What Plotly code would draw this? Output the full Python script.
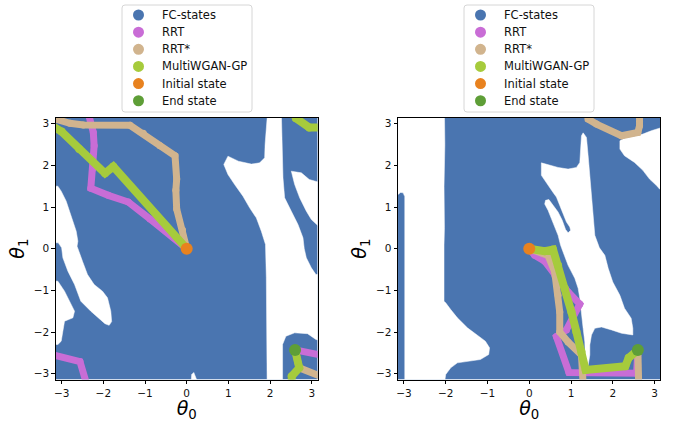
import math
import plotly.graph_objects as go

PI = math.pi
THETA_LIMITS = [-PI, PI]
TICKS = [-3, -2, -1, 0, 1, 2, 3]
LEGEND_NAMES = ["FC-states", "RRT", "RRT*", "MultiWGAN-GP", "Initial state", "End state"]
COLORS = {"FC-states": "#4A75B0", "RRT": "#C96DD6", "RRT*": "#D1B48E",
          "MultiWGAN-GP": "#A6CB3C", "Initial state": "#E8821F", "End state": "#5E9E37"}

INITIAL_STATE = (0.0, 0.0)
END_STATE = (2.60, -2.43)

# ---------- left panel: collision (white) regions inside the FC-state map ----------
L_FREE_A = [(-3.3, 1.50), (-3.09, 1.50), (-3.01, 1.38), (-2.89, 1.14), (-2.81, 0.90), (-2.73, 0.66),
            (-2.65, 0.42), (-2.61, 0.18), (-2.63, 0.06), (-2.50, -0.30), (-2.38, -0.62), (-2.22, -0.86),
            (-2.02, -1.02), (-1.90, -1.18), (-1.82, -1.50), (-1.80, -1.75), (-1.86, -1.84), (-1.96, -1.80),
            (-2.30, -1.50), (-2.54, -1.26), (-2.69, -0.86), (-2.85, -0.54), (-2.97, -0.22), (-3.00, 0.02),
            (-3.08, 0.14), (-3.3, 0.15)]
L_FREE_B = [(-3.3, -0.76), (-3.09, -0.78), (-2.93, -1.02), (-2.77, -1.34), (-2.69, -1.50), (-2.73, -1.66),
            (-2.93, -1.74), (-2.97, -1.98), (-3.01, -2.22), (-3.09, -2.30), (-3.3, -2.30)]
L_FREE_C = [(1.93, 3.3), (1.93, 3.14), (1.88, 2.50), (1.87, 2.18), (1.75, 2.06), (1.55, 2.03), (1.24, 2.10),
            (0.99, 2.22), (0.89, 2.02), (0.99, 1.78), (1.15, 1.54), (1.35, 1.26), (1.51, 0.98), (1.67, 0.74),
            (1.79, 0.42), (1.89, 0.10), (1.91, -0.70), (1.91, -2.30), (1.93, -3.3), (2.30, -3.3),
            (2.30, -2.30), (2.38, -2.10), (2.59, -2.02), (2.90, -2.04), (3.10, -2.18), (3.3, -2.22),
            (3.3, -0.62), (3.10, -0.62), (2.99, -0.46), (2.87, -0.22), (2.82, 0.0), (2.79, 0.26),
            (2.67, 0.58), (2.51, 0.90), (2.35, 1.22), (2.31, 1.70), (2.29, 2.50), (2.27, 3.3)]
L_FREE_D = [(2.51, 1.86), (2.75, 1.82), (2.94, 1.66), (3.3, 1.56), (3.3, 0.55), (3.14, 0.56), (2.99, 0.70),
            (2.87, 0.90), (2.71, 1.22), (2.59, 1.54)]
L_FREE_E = [(0.10, -3.3), (0.12, -3.02), (0.17, -2.97), (0.22, -3.10), (0.30, -3.3)]

# ---------- right panel: collision (white) regions ----------
R_FREE_A = [(-3.3, 3.3), (-2.03, 3.3), (-2.02, 2.5), (-2.04, 1.5), (-2.03, 0.5), (-2.04, 0.10),
            (-2.04, -1.26), (-2.00, -1.30), (-1.88, -1.46), (-1.72, -1.66), (-1.48, -1.90), (-1.25, -2.06),
            (-1.05, -2.22), (-0.95, -2.38), (-0.97, -2.54), (-1.17, -2.66), (-1.48, -2.70), (-1.72, -2.74),
            (-1.88, -2.86), (-2.00, -3.02), (-2.04, -3.3), (-2.98, -3.3), (-2.98, 1.25), (-3.02, 1.34),
            (-3.08, 1.35), (-3.14, 1.30), (-3.3, 1.30)]
R_FREE_B = [(1.29, 2.78), (1.37, 2.67), (1.41, 2.23), (1.45, 1.76), (1.49, 1.28), (1.53, 0.80), (1.57, 0.32),
            (1.68, 0.02), (1.81, -0.16), (1.89, -0.47), (2.00, -0.80), (2.17, -1.12), (2.28, -1.43),
            (2.44, -1.67), (2.48, -1.91), (2.48, -2.07), (2.21, -2.03), (1.97, -1.95), (1.73, -1.88),
            (1.57, -1.91), (1.49, -2.07), (1.45, -2.31), (1.45, -2.55), (1.41, -2.80), (1.38, -2.86),
            (1.34, -2.60), (1.33, -2.24), (1.29, -1.91), (1.25, -1.51), (1.21, -1.19), (1.17, -0.95),
            (1.09, -0.71), (0.93, -0.40), (0.81, -0.08), (0.75, 0.08), (0.69, 0.32), (0.57, 0.64),
            (0.45, 0.92), (0.37, 1.07), (0.39, 1.16), (0.47, 1.18), (0.57, 1.05), (0.69, 0.88),
            (0.79, 0.68), (0.87, 0.46), (0.93, 0.38), (0.99, 0.44), (0.97, 0.52), (0.89, 0.64),
            (0.81, 0.84), (0.73, 1.04), (0.65, 1.24), (0.57, 1.35), (0.41, 1.59), (0.29, 1.76),
            (0.29, 2.06), (0.49, 2.01), (0.69, 1.95), (0.93, 1.91), (1.13, 1.95), (1.21, 2.07),
            (1.23, 2.47), (1.25, 2.71), (1.29, 2.78)]
R_FREE_C = [(2.17, 2.59), (2.28, 2.65), (2.52, 2.70), (2.72, 2.75), (2.92, 2.83), (3.3, 2.95), (3.3, 1.40),
            (3.12, 1.43), (3.04, 1.52), (2.88, 1.67), (2.72, 1.88), (2.52, 2.07), (2.28, 2.23), (2.17, 2.39)]

# ---------- paths (None = wrap-around break) ----------
L_RRT = [(2.60, -2.43), (3.25, -2.56), None,
         (-3.25, -2.54), (-2.56, -2.71), (-2.40, -3.25), None,
         (-2.36, 3.25), (-2.24, 2.79), (-2.22, 2.47), (-2.26, 1.91), (-2.30, 1.45), (-1.88, 1.28),
         (-1.40, 1.12), (-0.88, 0.71), (0.0, 0.0)]
L_RRTSTAR = [(0.0, 0.0), (-0.10, 0.45), (-0.24, 0.95), (-0.26, 1.40), (-0.24, 1.67), (-0.28, 2.23),
             (-0.64, 2.47), (-1.04, 2.77), (-1.36, 2.96), (-2.48, 2.97), (-2.80, 3.01), (-3.12, 3.10),
             (-3.25, 3.14), None,
             (3.25, -3.08), (2.70, -2.86), (2.60, -2.43)]
L_WGAN = [(0.0, 0.0), (-1.76, 1.97), (-1.96, 1.81), (-2.58, 2.39), (-3.0, 2.81), (-3.25, 2.96), None,
          (3.25, 2.91), (2.94, 2.91), (2.62, 3.13), (2.58, 3.25), None,
          (2.52, -3.25), (2.52, -3.06), (2.70, -2.86), (2.60, -2.43)]

R_RRT = [(0.0, 0.0), (0.13, -0.16), (0.37, -0.30), (0.61, -0.64), (0.93, -1.04), (1.21, -1.33),
         (1.05, -1.63), (0.89, -1.95), (0.65, -2.11), (0.95, -2.97), (2.57, -2.99), (2.60, -2.43)]
R_RRTSTAR = [(0.0, 0.0), (0.45, -0.16), (0.61, -0.56), (0.69, -1.12), (0.73, -1.52), (0.73, -2.00),
             (0.93, -2.24), (1.25, -2.55), (1.29, -3.25), None,
             (1.40, 3.25), (1.41, 3.11), (1.61, 2.99), (2.21, 2.71), (2.60, 2.79), (2.64, 2.95),
             (2.64, 3.25), None,
             (2.62, -3.25), (2.60, -2.43)]
R_WGAN = [(0.0, 0.0), (0.37, -0.06), (0.57, -0.02), (0.69, -0.40), (0.85, -0.95), (1.01, -1.52),
          (1.13, -2.00), (1.25, -2.47), (1.35, -2.91), (2.30, -2.82), (2.38, -2.62), (2.60, -2.43)]

PANELS = [
    {"xaxis": "x", "yaxis": "y", "legend_left_px": 122,
     "free": [L_FREE_A, L_FREE_B, L_FREE_C, L_FREE_D, L_FREE_E],
     "paths": {"RRT": L_RRT, "RRT*": L_RRTSTAR, "MultiWGAN-GP": L_WGAN}},
    {"xaxis": "x2", "yaxis": "y2", "legend_left_px": 464,
     "free": [R_FREE_A, R_FREE_B, R_FREE_C],
     "paths": {"RRT": R_RRT, "RRT*": R_RRTSTAR, "MultiWGAN-GP": R_WGAN}},
]

W, H = 673, 422


def split(points):
    xs = [p[0] if p is not None else None for p in points]
    ys = [p[1] if p is not None else None for p in points]
    return xs, ys


def px_x(v):
    return v / W


def px_y(v):
    return 1 - v / H


def rounded_box(x0, y0, x1, y1, r):
    # pixel box -> paper-coordinate SVG path with rounded corners
    rx, ry = r / W, r / H
    X0, X1 = px_x(x0), px_x(x1)
    Y0, Y1 = px_y(y0), px_y(y1)  # Y0 top, Y1 bottom
    return (f"M {X0 + rx},{Y0} L {X1 - rx},{Y0} Q {X1},{Y0} {X1},{Y0 - ry} "
            f"L {X1},{Y1 + ry} Q {X1},{Y1} {X1 - rx},{Y1} L {X0 + rx},{Y1} "
            f"Q {X0},{Y1} {X0},{Y1 + ry} L {X0},{Y0 - ry} Q {X0},{Y0} {X0 + rx},{Y0} Z")


fig = go.Figure()
shapes, annotations = [], []
for panel in PANELS:
    ax = dict(xaxis=panel["xaxis"], yaxis=panel["yaxis"])
    lo, hi = THETA_LIMITS
    # FC-state area
    fig.add_trace(go.Scatter(x=[lo, hi, hi, lo, lo], y=[lo, lo, hi, hi, lo], mode="lines",
                             fill="toself", fillcolor=COLORS["FC-states"],
                             line=dict(width=0, color=COLORS["FC-states"]),
                             hoverinfo="skip", showlegend=False, **ax))
    # collision regions
    for poly in panel["free"]:
        xs, ys = split(poly + [poly[0]])
        fig.add_trace(go.Scatter(x=xs, y=ys, mode="lines", fill="toself", fillcolor="white",
                                 line=dict(width=0.5, color="white"), hoverinfo="skip",
                                 showlegend=False, **ax))
    # planned paths
    for name, width in (("RRT", 7), ("RRT*", 7), ("MultiWGAN-GP", 8)):
        xs, ys = split(panel["paths"][name])
        fig.add_trace(go.Scatter(x=xs, y=ys, mode="lines+markers", name=name,
                                 line=dict(color=COLORS[name], width=width),
                                 marker=dict(color=COLORS[name], size=width),
                                 showlegend=False, **ax))
    for name, pt in (("Initial state", INITIAL_STATE), ("End state", END_STATE)):
        fig.add_trace(go.Scatter(x=[pt[0]], y=[pt[1]], mode="markers", name=name,
                                 marker=dict(color=COLORS[name], size=12),
                                 showlegend=False, **ax))

    # legend box drawn by hand (matplotlib-like spacing)
    left = panel["legend_left_px"]
    shapes.append(dict(type="path", xref="paper", yref="paper",
                       path=rounded_box(left, 5, left + 130, 112, 3),
                       fillcolor="rgba(255,255,255,0.85)", line=dict(color="#d6d6d6", width=1),
                       layer="above"))
    for i, name in enumerate(LEGEND_NAMES):
        cy = 15 + 17.15 * i
        shapes.append(dict(type="circle", xref="paper", yref="paper",
                           xsizemode="pixel", ysizemode="pixel",
                           xanchor=px_x(left + 16.5), yanchor=px_y(cy),
                           x0=-5.5, x1=5.5, y0=-5.5, y1=5.5,
                           fillcolor=COLORS[name], line=dict(width=0), layer="above"))
        annotations.append(dict(text=name, xref="paper", yref="paper",
                                x=px_x(left + 37.5), y=px_y(cy), xanchor="left", yanchor="middle",
                                showarrow=False,
                                font=dict(family="DejaVu Sans", size=11.5, color="#111")))

axis_common = dict(range=THETA_LIMITS, tickvals=TICKS, ticks="outside", ticklen=3.5, tickwidth=0.8,
                   tickcolor="black", showline=True, mirror=True, linecolor="black", linewidth=0.8,
                   showgrid=False, zeroline=False,
                   tickfont=dict(family="DejaVu Sans", size=10.5, color="#111"))
title_font = dict(family="DejaVu Sans", size=19, color="black")

fig.update_layout(
    width=W, height=H, margin=dict(l=0, r=0, t=0, b=0, autoexpand=False),
    paper_bgcolor="white", plot_bgcolor="white", showlegend=False,
    xaxis=dict(domain=[0.0828, 0.472], anchor="y",
               title=dict(text="<i>θ</i><sub>0</sub>", font=title_font, standoff=7), **axis_common),
    yaxis=dict(domain=[0.1005, 0.7209], anchor="x",
               title=dict(text="<i>θ</i><sub>1</sub>", font=title_font, standoff=4), **axis_common),
    xaxis2=dict(domain=[0.5914, 0.9814], anchor="y2",
                title=dict(text="<i>θ</i><sub>0</sub>", font=title_font, standoff=7), **axis_common),
    yaxis2=dict(domain=[0.1005, 0.7209], anchor="x2",
                title=dict(text="<i>θ</i><sub>1</sub>", font=title_font, standoff=4), **axis_common),
    shapes=shapes, annotations=annotations,
)

fig.write_html("out.html")
